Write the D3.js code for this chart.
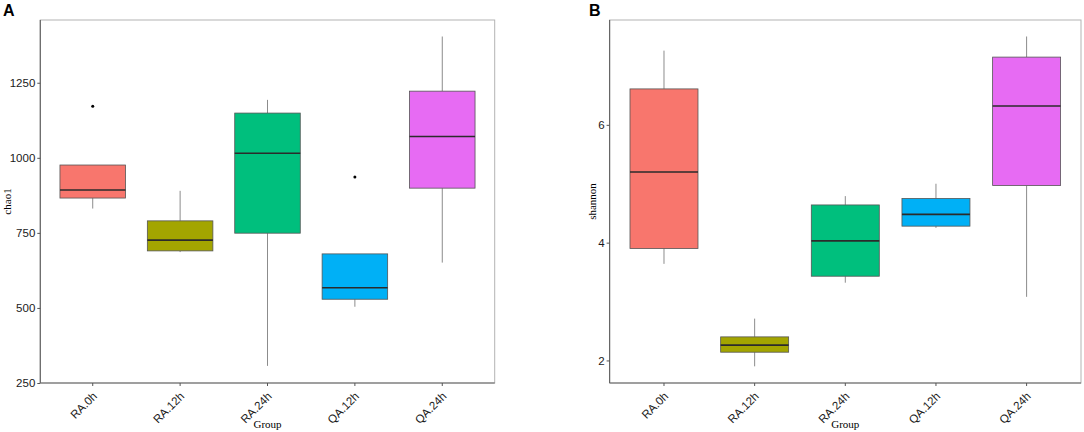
<!DOCTYPE html>
<html>
<head>
<meta charset="utf-8">
<script src="https://cdnjs.cloudflare.com/ajax/libs/d3/7.8.5/d3.min.js"></script>
<style>
  body { margin: 0; background: #fff; }
  svg { display: block; }
</style>
</head>
<body>
<script>
  // categories and fill colours
  var groups = ['RA.0h', 'RA.12h', 'RA.24h', 'QA.12h', 'QA.24h'];
  var fills = ['#F8766D', '#A3A500', '#00BF7D', '#00B0F6', '#E76BF3'];

  // box stats per group: [lower whisker, Q1, median, Q3, upper whisker]
  var chao1Stats = [
    [831, 866, 893, 976, 976],
    [686, 690, 726, 790, 890],
    [307, 749, 1015, 1149, 1193],
    [504, 529, 567, 680, 680],
    [651, 899, 1071, 1222, 1404]
  ];
  var chao1Outliers = [[1172], [], [], [936], []];
  var chao1Ticks = [250, 500, 750, 1000, 1250];

  var shannonStats = [
    [3.64, 3.90, 5.20, 6.61, 7.26],
    [1.90, 2.14, 2.26, 2.40, 2.71],
    [3.32, 3.43, 4.03, 4.64, 4.79],
    [4.25, 4.28, 4.48, 4.75, 5.00],
    [3.08, 4.97, 6.32, 7.15, 7.50]
  ];
  var shannonOutliers = [[], [], [], [], []];
  var shannonTicks = [2, 4, 6];

  var width = 1084, height = 432;

  var svg = d3.select('body').append('svg')
      .attr('width', width)
      .attr('height', height);

  function drawPanel(opt) {
    var x = d3.scaleBand()
        .domain(groups)
        .range([opt.left, opt.right])
        .paddingOuter(0.1)
        .paddingInner(0);
    var y = d3.scaleLinear()
        .domain(opt.domain)
        .range([opt.bottom, opt.top]);
    var step = x.bandwidth();
    var boxW = step * 0.75;

    var g = svg.append('g');

    // panel frame
    g.append('rect')
        .attr('x', opt.left)
        .attr('y', opt.top)
        .attr('width', opt.right - opt.left)
        .attr('height', opt.bottom - opt.top)
        .attr('fill', '#fff')
        .attr('stroke', '#b3b3b3')
        .attr('stroke-width', 1);

    // boxes
    var box = g.selectAll('g.box')
        .data(opt.stats)
      .enter().append('g')
        .attr('class', 'box')
        .attr('transform', function(d, i) {
          return 'translate(' + (x(groups[i]) + step / 2) + ',0)';
        });

    box.append('line')
        .attr('x1', 0).attr('x2', 0)
        .attr('y1', function(d) { return y(d[4]); })
        .attr('y2', function(d) { return y(d[3]); })
        .attr('stroke', '#8c8c8c')
        .attr('stroke-width', 1);

    box.append('line')
        .attr('x1', 0).attr('x2', 0)
        .attr('y1', function(d) { return y(d[1]); })
        .attr('y2', function(d) { return y(d[0]); })
        .attr('stroke', '#8c8c8c')
        .attr('stroke-width', 1);

    box.append('rect')
        .attr('x', -boxW / 2)
        .attr('width', boxW)
        .attr('y', function(d) { return y(d[3]); })
        .attr('height', function(d) { return y(d[1]) - y(d[3]); })
        .attr('fill', function(d, i) { return fills[i]; })
        .attr('stroke', '#555')
        .attr('stroke-width', 0.8);

    box.append('line')
        .attr('x1', -boxW / 2).attr('x2', boxW / 2)
        .attr('y1', function(d) { return y(d[2]); })
        .attr('y2', function(d) { return y(d[2]); })
        .attr('stroke', '#2b2b2b')
        .attr('stroke-width', 1.6);

    box.selectAll('circle')
        .data(function(d, i) { return opt.outliers[i]; })
      .enter().append('circle')
        .attr('cx', 0)
        .attr('cy', function(d) { return y(d); })
        .attr('r', 1.5)
        .attr('fill', '#000');

    // y axis
    var yAxis = g.append('g')
        .attr('transform', 'translate(' + opt.left + ',0)')
        .call(d3.axisLeft(y).tickValues(opt.ticks).tickFormat(d3.format('d'))
          .tickSize(3).tickPadding(2).tickSizeOuter(0));
    yAxis.select('.domain')
        .attr('d', 'M0,' + opt.top + 'V' + opt.bottom)
        .attr('stroke', '#666').attr('stroke-width', 1.2);
    yAxis.selectAll('.tick line').attr('stroke', '#555');
    yAxis.selectAll('.tick text')
        .attr('fill', '#1a1a1a')
        .style('font-family', '"Liberation Sans", Arial, sans-serif')
        .style('font-size', '11.5px');

    // x axis
    var xAxis = g.append('g')
        .attr('transform', 'translate(0,' + opt.bottom + ')')
        .call(d3.axisBottom(x).tickSize(3).tickSizeOuter(0));
    xAxis.select('.domain')
        .attr('d', 'M' + opt.left + ',0H' + opt.right)
        .attr('stroke', '#666').attr('stroke-width', 1.2);
    xAxis.selectAll('.tick line').attr('stroke', '#555');
    xAxis.selectAll('.tick text')
        .attr('fill', '#1a1a1a')
        .attr('text-anchor', 'end')
        .attr('dy', null)
        .attr('y', 0)
        .attr('transform', 'translate(5,14) rotate(-45)')
        .style('font-family', '"Liberation Sans", Arial, sans-serif')
        .style('font-size', '11.5px');

    // titles
    g.append('text')
        .attr('x', (opt.left + opt.right) / 2)
        .attr('y', 428)
        .attr('text-anchor', 'middle')
        .style('font-family', '"Liberation Serif", "Times New Roman", serif')
        .style('font-size', '11px')
        .text('Group');

    g.append('text')
        .attr('transform', 'translate(' + opt.ylabelX + ',' + ((opt.top + opt.bottom) / 2) + ') rotate(-90)')
        .attr('text-anchor', 'middle')
        .style('font-family', '"Liberation Serif", "Times New Roman", serif')
        .style('font-size', '11px')
        .text(opt.ylabel);

    g.append('text')
        .attr('x', opt.tagX)
        .attr('y', 16)
        .style('font-family', '"Liberation Sans", Arial, sans-serif')
        .style('font-weight', 'bold')
        .style('font-size', '16px')
        .text(opt.tag);
  }

  drawPanel({
    left: 40.3, right: 494.7, top: 20, bottom: 383,
    domain: [250, 1459],
    stats: chao1Stats, outliers: chao1Outliers, ticks: chao1Ticks,
    ylabel: 'chao1', ylabelX: 11, tag: 'A', tagX: 3
  });

  drawPanel({
    left: 609.6, right: 1081, top: 20, bottom: 383,
    domain: [1.617, 7.78],
    stats: shannonStats, outliers: shannonOutliers, ticks: shannonTicks,
    ylabel: 'shannon', ylabelX: 596, tag: 'B', tagX: 589
  });
</script>
</body>
</html>
